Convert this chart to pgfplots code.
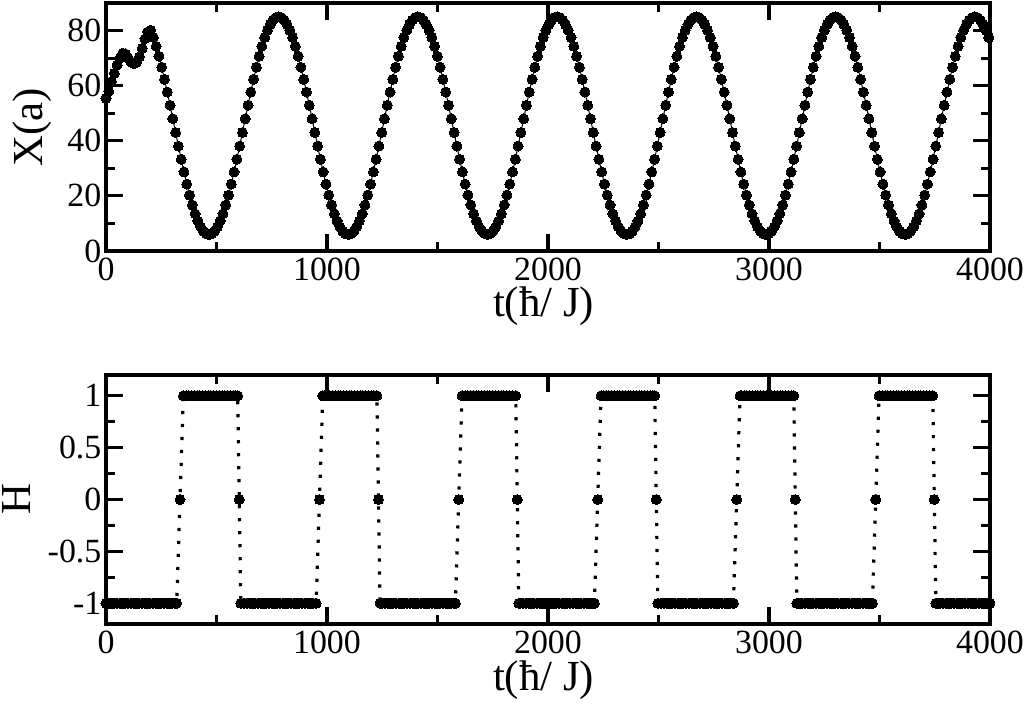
\documentclass[border=0pt]{standalone}
\usepackage{fontspec}
\setmainfont{Liberation Serif}
\usepackage{pgfplots}
\pgfplotsset{compat=1.18}

\pgfplotsset{
  panel/.style={
    scale only axis, width=442bp,
    xmin=0, xmax=4000,
    xtick={0,1000,2000,3000,4000}, minor x tick num=1,
    minor y tick num=1,
    axis line style={line width=1.6bp},
    tick style={line width=1.6bp, black},
    major tick length=8.5bp, minor tick length=4.5bp,
    tick align=inside,
    clip=false,
    tick label style={font=\fontsize{17}{19}\selectfont},
    yticklabel style={xshift=1.2bp},
    /pgf/number format/assume math mode=true,
    /pgf/number format/set thousands separator={},
    xlabel={t(ħ/ J)},
    every axis x label/.style={at={(axis description cs:0.495,-0.266)}, anchor=base, font=\fontsize{21.5}{26}\selectfont},
  },
}

\begin{document}
\begin{tikzpicture}
\useasboundingbox (-53bp,-228bp) rectangle (459.5bp,125.5bp);

% top panel: X(a)
\begin{axis}[panel, height=124bp, at={(0,0)}, anchor=south west,
  ymin=0, ymax=90, ytick={0,20,40,60,80},
  ylabel={X(a)},
  every axis y label/.style={at={(axis description cs:-0.0713,0.5)}, rotate=90, anchor=base, font=\fontsize{21.5}{26}\selectfont},
]
\addplot[black, line width=0.5bp, mark=*, mark size=2.5bp, mark options={fill=black, line width=0pt}] coordinates {
(0,55.4) (12.6,58.0) (25.2,61.5) (37.8,64.5) (50.4,67.5) (63,70.0) (75.6,71.8) (88.2,71.5) (100.8,70.0) (113.4,68.5)
(126,68.0) (138.6,68.5) (151.2,70.5) (163.8,73.5) (176.4,77.0) (189,79.5)
(201.6,80.1) (214.2,77.5) (226.8,74.3) (239.4,70.7) (252,66.7) (264.6,62.3) (277.2,57.7) (289.8,52.9) (302.4,48.0) (315,43.0)
(327.6,38.1) (340.2,33.3) (352.8,28.7) (365.4,24.3) (378,20.3) (390.6,16.7) (403.2,13.5) (415.8,10.9) (428.4,8.8) (441,7.2) (453.6,6.3)
(466.2,6.0) (478.8,6.3) (491.4,7.2) (504,8.8) (516.6,10.9) (529.2,13.5) (541.8,16.7) (554.4,20.3) (567,24.3) (579.6,28.7)
(592.2,33.3) (604.8,38.1) (617.4,43.0) (630,48.0) (642.6,52.9) (655.2,57.7) (667.8,62.3) (680.4,66.7) (693,70.7) (705.6,74.3)
(718.2,77.5) (730.8,80.1) (743.4,82.2) (756,83.8) (768.6,84.7) (781.2,85.0) (793.8,84.7) (806.4,83.8) (819,82.2) (831.6,80.1)
(844.2,77.5) (856.8,74.3) (869.4,70.7) (882,66.7) (894.6,62.3) (907.2,57.7) (919.8,52.9) (932.4,48.0) (945,43.0) (957.6,38.1)
(970.2,33.3) (982.8,28.7) (995.4,24.3) (1008,20.3) (1020.6,16.7) (1033.2,13.5) (1045.8,10.9) (1058.4,8.8) (1071,7.2) (1083.6,6.3)
(1096.2,6.0) (1108.8,6.3) (1121.4,7.2) (1134,8.8) (1146.6,10.9) (1159.2,13.5) (1171.8,16.7) (1184.4,20.3) (1197,24.3) (1209.6,28.7)
(1222.2,33.3) (1234.8,38.1) (1247.4,43.0) (1260,48.0) (1272.6,52.9) (1285.2,57.7) (1297.8,62.3) (1310.4,66.7) (1323,70.7) (1335.6,74.3)
(1348.2,77.5) (1360.8,80.1) (1373.4,82.2) (1386,83.8) (1398.6,84.7) (1411.2,85.0) (1423.8,84.7) (1436.4,83.8) (1449,82.2) (1461.6,80.1)
(1474.2,77.5) (1486.8,74.3) (1499.4,70.7) (1512,66.7) (1524.6,62.3) (1537.2,57.7) (1549.8,52.9) (1562.4,48.0) (1575,43.0) (1587.6,38.1)
(1600.2,33.3) (1612.8,28.7) (1625.4,24.3) (1638,20.3) (1650.6,16.7) (1663.2,13.5) (1675.8,10.9) (1688.4,8.8) (1701,7.2) (1713.6,6.3)
(1726.2,6.0) (1738.8,6.3) (1751.4,7.2) (1764,8.8) (1776.6,10.9) (1789.2,13.5) (1801.8,16.7) (1814.4,20.3) (1827,24.3) (1839.6,28.7)
(1852.2,33.3) (1864.8,38.1) (1877.4,43.0) (1890,48.0) (1902.6,52.9) (1915.2,57.7) (1927.8,62.3) (1940.4,66.7) (1953,70.7) (1965.6,74.3)
(1978.2,77.5) (1990.8,80.1) (2003.4,82.2) (2016,83.8) (2028.6,84.7) (2041.2,85.0) (2053.8,84.7) (2066.4,83.8) (2079,82.2) (2091.6,80.1)
(2104.2,77.5) (2116.8,74.3) (2129.4,70.7) (2142,66.7) (2154.6,62.3) (2167.2,57.7) (2179.8,52.9) (2192.4,48.0) (2205,43.0) (2217.6,38.1)
(2230.2,33.3) (2242.8,28.7) (2255.4,24.3) (2268,20.3) (2280.6,16.7) (2293.2,13.5) (2305.8,10.9) (2318.4,8.8) (2331,7.2) (2343.6,6.3)
(2356.2,6.0) (2368.8,6.3) (2381.4,7.2) (2394,8.8) (2406.6,10.9) (2419.2,13.5) (2431.8,16.7) (2444.4,20.3) (2457,24.3) (2469.6,28.7)
(2482.2,33.3) (2494.8,38.1) (2507.4,43.0) (2520,48.0) (2532.6,52.9) (2545.2,57.7) (2557.8,62.3) (2570.4,66.7) (2583,70.7) (2595.6,74.3)
(2608.2,77.5) (2620.8,80.1) (2633.4,82.2) (2646,83.8) (2658.6,84.7) (2671.2,85.0) (2683.8,84.7) (2696.4,83.8) (2709,82.2) (2721.6,80.1)
(2734.2,77.5) (2746.8,74.3) (2759.4,70.7) (2772,66.7) (2784.6,62.3) (2797.2,57.7) (2809.8,52.9) (2822.4,48.0) (2835,43.0) (2847.6,38.1)
(2860.2,33.3) (2872.8,28.7) (2885.4,24.3) (2898,20.3) (2910.6,16.7) (2923.2,13.5) (2935.8,10.9) (2948.4,8.8) (2961,7.2) (2973.6,6.3)
(2986.2,6.0) (2998.8,6.3) (3011.4,7.2) (3024,8.8) (3036.6,10.9) (3049.2,13.5) (3061.8,16.7) (3074.4,20.3) (3087,24.3) (3099.6,28.7)
(3112.2,33.3) (3124.8,38.1) (3137.4,43.0) (3150,48.0) (3162.6,52.9) (3175.2,57.7) (3187.8,62.3) (3200.4,66.7) (3213,70.7) (3225.6,74.3)
(3238.2,77.5) (3250.8,80.1) (3263.4,82.2) (3276,83.8) (3288.6,84.7) (3301.2,85.0) (3313.8,84.7) (3326.4,83.8) (3339,82.2) (3351.6,80.1)
(3364.2,77.5) (3376.8,74.3) (3389.4,70.7) (3402,66.7) (3414.6,62.3) (3427.2,57.7) (3439.8,52.9) (3452.4,48.0) (3465,43.0) (3477.6,38.1)
(3490.2,33.3) (3502.8,28.7) (3515.4,24.3) (3528,20.3) (3540.6,16.7) (3553.2,13.5) (3565.8,10.9) (3578.4,8.8) (3591,7.2) (3603.6,6.3)
(3616.2,6.0) (3628.8,6.3) (3641.4,7.2) (3654,8.8) (3666.6,10.9) (3679.2,13.5) (3691.8,16.7) (3704.4,20.3) (3717,24.3) (3729.6,28.7)
(3742.2,33.3) (3754.8,38.1) (3767.4,43.0) (3780,48.0) (3792.6,52.9) (3805.2,57.7) (3817.8,62.3) (3830.4,66.7) (3843,70.7) (3855.6,74.3)
(3868.2,77.5) (3880.8,80.1) (3893.4,82.2) (3906,83.8) (3918.6,84.7) (3931.2,85.0) (3943.8,84.7) (3956.4,83.8) (3969,82.2) (3981.6,80.1)
(3994.2,77.5)
};
\end{axis}

% bottom panel: H
\begin{axis}[panel, height=124.5bp, at={(0,-186.5bp)}, anchor=south west,
  ymin=-1.2, ymax=1.2, ytick={-1,-0.5,0,0.5,1},
  ylabel={H},
  every axis y label/.style={at={(axis description cs:-0.085,0.5)}, rotate=90, anchor=base, font=\fontsize{21.5}{26}\selectfont},
]
\addplot[black, line width=1.6bp, dash pattern=on 1.6bp off 4.9bp, mark=*, mark size=2.5bp, mark options={solid, fill=black, line width=0pt}] coordinates {
(0,-1) (12.5,-1) (25,-1) (37.5,-1) (50,-1) (62.5,-1) (75,-1) (87.5,-1) (100,-1) (112.5,-1) (125,-1) (137.5,-1) (150,-1)
(162.5,-1) (175,-1) (187.5,-1) (200,-1) (212.5,-1) (225,-1) (237.5,-1) (250,-1) (262.5,-1) (275,-1) (287.5,-1) (300,-1) (312.5,-1) (320,-1)
(335,0)
(350,1) (362.5,1) (375,1) (387.5,1) (400,1) (412.5,1) (425,1) (437.5,1) (450,1) (462.5,1) (475,1) (487.5,1) (500,1)
(512.5,1) (525,1) (537.5,1) (550,1) (562.5,1) (575,1) (587.5,1) (596,1)
(603,0)
(610,-1) (625,-1) (637.5,-1) (650,-1) (662.5,-1) (675,-1) (687.5,-1) (700,-1) (712.5,-1) (725,-1) (737.5,-1) (750,-1) (762.5,-1)
(775,-1) (787.5,-1) (800,-1) (812.5,-1) (825,-1) (837.5,-1) (850,-1) (862.5,-1) (875,-1) (887.5,-1) (900,-1) (912.5,-1) (925,-1) (937.5,-1) (951,-1)
(966,0)
(981,1) (987.5,1) (1000,1) (1012.5,1) (1025,1) (1037.5,1) (1050,1) (1062.5,1) (1075,1) (1087.5,1) (1100,1) (1112.5,1)
(1125,1) (1137.5,1) (1150,1) (1162.5,1) (1175,1) (1187.5,1) (1200,1) (1212.5,1) (1226,1)
(1233,0)
(1240,-1) (1250,-1) (1262.5,-1) (1275,-1) (1287.5,-1) (1300,-1) (1312.5,-1) (1325,-1) (1337.5,-1) (1350,-1) (1362.5,-1) (1375,-1)
(1387.5,-1) (1400,-1) (1412.5,-1) (1425,-1) (1437.5,-1) (1450,-1) (1462.5,-1) (1475,-1) (1487.5,-1) (1500,-1) (1512.5,-1) (1525,-1)
(1537.5,-1) (1550,-1) (1562.5,-1) (1575,-1) (1581,-1)
(1596,0)
(1611,1) (1625,1) (1637.5,1) (1650,1) (1662.5,1) (1675,1) (1687.5,1) (1700,1) (1712.5,1) (1725,1) (1737.5,1) (1750,1)
(1762.5,1) (1775,1) (1787.5,1) (1800,1) (1812.5,1) (1825,1) (1837.5,1) (1854,1)
(1861,0)
(1868,-1) (1875,-1) (1887.5,-1) (1900,-1) (1912.5,-1) (1925,-1) (1937.5,-1) (1950,-1) (1962.5,-1) (1975,-1) (1987.5,-1) (2000,-1)
(2012.5,-1) (2025,-1) (2037.5,-1) (2050,-1) (2062.5,-1) (2075,-1) (2087.5,-1) (2100,-1) (2112.5,-1) (2125,-1) (2137.5,-1) (2150,-1)
(2162.5,-1) (2175,-1) (2187.5,-1) (2200,-1) (2210,-1)
(2225,0)
(2240,1) (2250,1) (2262.5,1) (2275,1) (2287.5,1) (2300,1) (2312.5,1) (2325,1) (2337.5,1) (2350,1) (2362.5,1) (2375,1)
(2387.5,1) (2400,1) (2412.5,1) (2425,1) (2437.5,1) (2450,1) (2462.5,1) (2475,1) (2483,1)
(2490,0)
(2497,-1) (2512.5,-1) (2525,-1) (2537.5,-1) (2550,-1) (2562.5,-1) (2575,-1) (2587.5,-1) (2600,-1) (2612.5,-1) (2625,-1) (2637.5,-1)
(2650,-1) (2662.5,-1) (2675,-1) (2687.5,-1) (2700,-1) (2712.5,-1) (2725,-1) (2737.5,-1) (2750,-1) (2762.5,-1) (2775,-1) (2787.5,-1)
(2800,-1) (2812.5,-1) (2825,-1) (2839,-1)
(2854,0)
(2869,1) (2875,1) (2887.5,1) (2900,1) (2912.5,1) (2925,1) (2937.5,1) (2950,1) (2962.5,1) (2975,1) (2987.5,1) (3000,1)
(3012.5,1) (3025,1) (3037.5,1) (3050,1) (3062.5,1) (3075,1) (3087.5,1) (3100,1) (3112,1)
(3119,0)
(3126,-1) (3137.5,-1) (3150,-1) (3162.5,-1) (3175,-1) (3187.5,-1) (3200,-1) (3212.5,-1) (3225,-1) (3237.5,-1) (3250,-1) (3262.5,-1)
(3275,-1) (3287.5,-1) (3300,-1) (3312.5,-1) (3325,-1) (3337.5,-1) (3350,-1) (3362.5,-1) (3375,-1) (3387.5,-1) (3400,-1) (3412.5,-1)
(3425,-1) (3437.5,-1) (3450,-1) (3462.5,-1) (3468,-1)
(3483,0)
(3498,1) (3512.5,1) (3525,1) (3537.5,1) (3550,1) (3562.5,1) (3575,1) (3587.5,1) (3600,1) (3612.5,1) (3625,1) (3637.5,1)
(3650,1) (3662.5,1) (3675,1) (3687.5,1) (3700,1) (3712.5,1) (3725,1) (3741,1)
(3748,0)
(3755,-1) (3762.5,-1) (3775,-1) (3787.5,-1) (3800,-1) (3812.5,-1) (3825,-1) (3837.5,-1) (3850,-1) (3862.5,-1) (3875,-1) (3887.5,-1)
(3900,-1) (3912.5,-1) (3925,-1) (3937.5,-1) (3950,-1) (3962.5,-1) (3975,-1) (3987.5,-1) (4000,-1)
};
\end{axis}
\end{tikzpicture}
\end{document}
